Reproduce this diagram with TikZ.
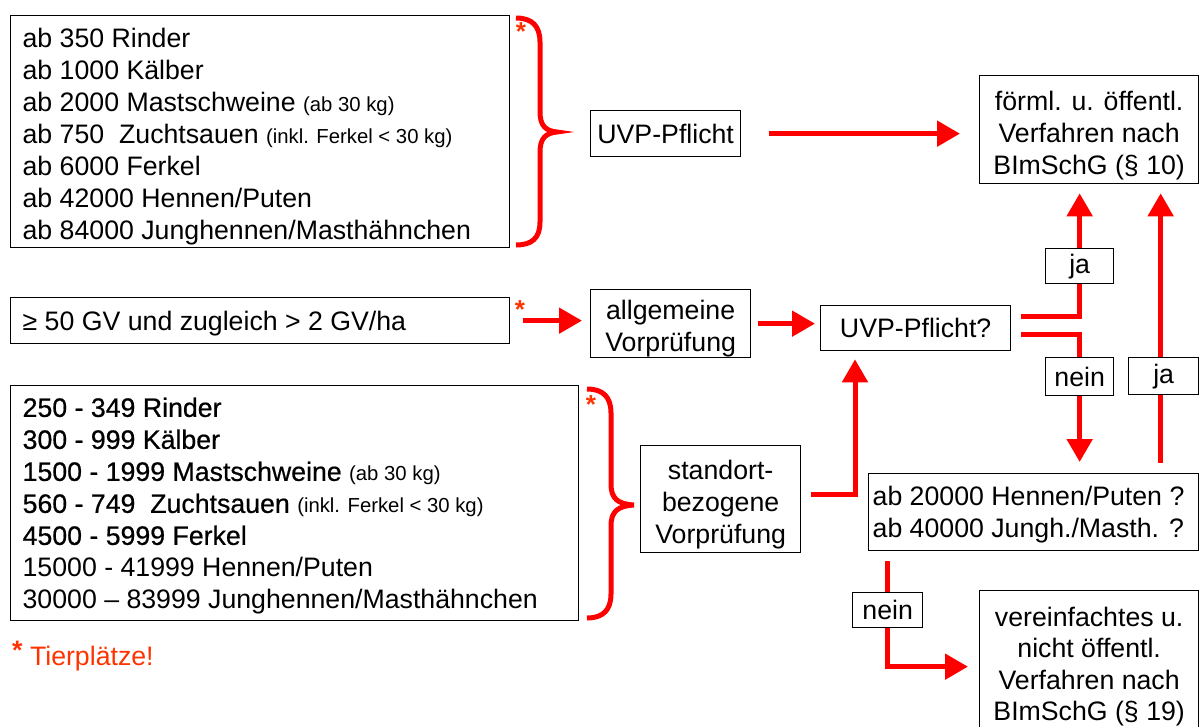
\documentclass[tikz,border=0pt]{standalone}
\usepackage{fontspec}
\setmainfont{Liberation Sans}
\newfontfamily\heavyfont[FakeBold=0.6]{Liberation Sans}
\usetikzlibrary{arrows.meta}
\definecolor{lred}{RGB}{255,0,0}
\definecolor{ored}{RGB}{255,51,0}
\newcommand\smalltxt[1]{{\fontsize{20.3}{32}\selectfont #1}}
\newcommand\mystrut[1]{\rule{0pt}{#1pt}}
\pgfdeclarelayer{bg}
\pgfsetlayers{bg,main}
\begin{document}
\begin{tikzpicture}[x=1pt,y=-1pt,
  box/.style={draw=black, line width=1.3pt, fill=white, inner sep=0pt, anchor=north west,
    align=center, font=\fontsize{26.7}{32}\selectfont},
  lbox/.style={box, align=flush left, inner xsep=12pt},
  conn/.style={draw=lred, line width=5pt},
  arr/.style={conn, -{Triangle[length=23pt,width=25pt]}},
  brc/.style={draw=lred, line width=5pt},
  star/.style={text=ored, font=\fontsize{26}{26}\selectfont\bfseries, inner sep=0pt},
]
\useasboundingbox (0,0) rectangle (1199,726);

% left boxes
\node[lbox, minimum width=499pt, minimum height=232pt, text width=475pt] (top) at (10,15)
 {\mystrut{30}ab 350 Rinder\\
  ab 1000 Kälber\\
  ab 2000 Mastschweine \smalltxt{(ab 30 kg)}\\
  ab 750\ \ Zuchtsauen \smalltxt{(inkl. Ferkel < 30 kg)}\\
  ab 6000 Ferkel\\
  ab 42000 Hennen/Puten\\
  ab 84000 Junghennen/Masthähnchen};
\node[lbox, minimum width=499pt, minimum height=46pt, text width=475pt] (gv) at (10,297)
 {\mystrut{25}≥ 50 GV und zugleich > 2 GV/ha};
\node[lbox, minimum width=568pt, minimum height=235pt, text width=544pt, inner xsep=12pt] (bot) at (10,385)
 {\mystrut{25}{\heavyfont 250 - 349 Rinder}\\
  {\heavyfont 300 - 999 Kälber}\\
  {\heavyfont 1500 - 1999 Mastschweine} \smalltxt{(ab 30 kg)}\\
  {\heavyfont 560 - 749\ \ Zuchtsauen} \smalltxt{(inkl. Ferkel < 30 kg)}\\
  {\heavyfont 4500 - 5999 Ferkel}\\
  15000 - 41999 Hennen/Puten\\
  30000 – 83999 Junghennen/Masthähnchen};

% asterisks
\node[star] (s1) at (521,32) {*};
\node[star] (s2) at (520,310) {*};
\node[star] (s3) at (591,405) {*};

% braces
\draw[brc] (516,18) .. controls (532,18) and (540,26) .. (540,42) -- (540,112)
  .. controls (540,126) and (546,131) .. (557,132)
  .. controls (546,133) and (540,138) .. (540,152) -- (540,222)
  .. controls (540,238) and (532,245) .. (516,245);
\draw[brc] (587,389) .. controls (603,389) and (611,397) .. (611,413) -- (611,484)
  .. controls (611,499) and (618,504) .. (634,505)
  .. controls (618,506) and (611,511) .. (611,526) -- (611,594)
  .. controls (611,610) and (603,618) .. (587,618);

% middle / right boxes
\node[box, minimum width=150pt, minimum height=46pt] (uvp) at (590,110) {UVP-Pflicht};
\node[box, minimum width=219pt, minimum height=108pt] (form) at (979,75)
 {\mystrut{31}förml. u. öffentl.\\Verfahren nach\\BImSchG (§ 10)};
\node[box, minimum width=160pt, minimum height=68pt] (allg) at (590,289)
 {\mystrut{30}allgemeine\\Vorprüfung};
\node[box, minimum width=190pt, minimum height=45pt] (uvpq) at (820,305) {UVP-Pflicht?};
\node[box, minimum width=160pt, minimum height=107pt] (stand) at (640,445)
 {\mystrut{30}standort-\\bezogene\\Vorprüfung};
\node[box, align=flush left, inner xsep=4pt, minimum width=330pt, minimum height=77pt, text width=322pt] (ab) at (868,473)
 {\mystrut{23.5}ab 20000 Hennen/Puten ?\\ab 40000 Jungh./Masth. ?};
\node[box, minimum width=219pt, minimum height=152pt, font=\fontsize{26.7}{31.5}\selectfont] (ver) at (979,590)
 {vereinfachtes u.\\nicht öffentl.\\Verfahren nach\\BImSchG (§ 19)};

% labels
\node[box, minimum width=68pt, minimum height=35pt] (ja1) at (1045,248) {ja};
\node[box, minimum width=68pt, minimum height=38pt] (nein1) at (1045,357) {nein};
\node[box, minimum width=70pt, minimum height=37pt] (ja2) at (1128,357) {ja};
\node[box, minimum width=70pt, minimum height=35pt] (nein2) at (852,592) {nein};

% footnote
\node[anchor=west, inner sep=0pt, text=ored, font=\fontsize{26.7}{32}\selectfont] (tp) at (12,656)
 {\raisebox{6pt}{\textbf{*}} Tierplätze!};

% connectors
\begin{pgfonlayer}{bg}
\draw[arr, shorten <=28pt, shorten >=19pt] (uvp.east) -- (uvp.east -| form.west);
\draw[arr, shorten <=13pt, shorten >=8pt] (gv.east) -- (gv.east -| allg.west);
\draw[arr, shorten <=7pt, shorten >=5pt] (allg.east) -- (allg.east -| uvpq.west);
\draw[arr] ([shift={(10pt,-11pt)}]uvpq.north east) -| ([yshift=-9pt]ja1.center |- form.south);
\draw[arr] ([shift={(10pt,17pt)}]uvpq.south east) -| ([yshift=11pt]nein1.center |- ab.north);
\draw[arr] ([shift={(-3pt,10pt)}]ja2.center |- ab.north) -- ([shift={(-3pt,-9pt)}]ja2.center |- form.south);
\draw[arr] ([shift={(10pt,5pt)}]stand.east) -| ([shift={(35pt,-8pt)}]uvpq.south west);
\draw[arr] ([yshift=-10pt]nein2.center |- ab.south) |- ([xshift=-11pt]ver.west);
\end{pgfonlayer}
\end{tikzpicture}
\end{document}
